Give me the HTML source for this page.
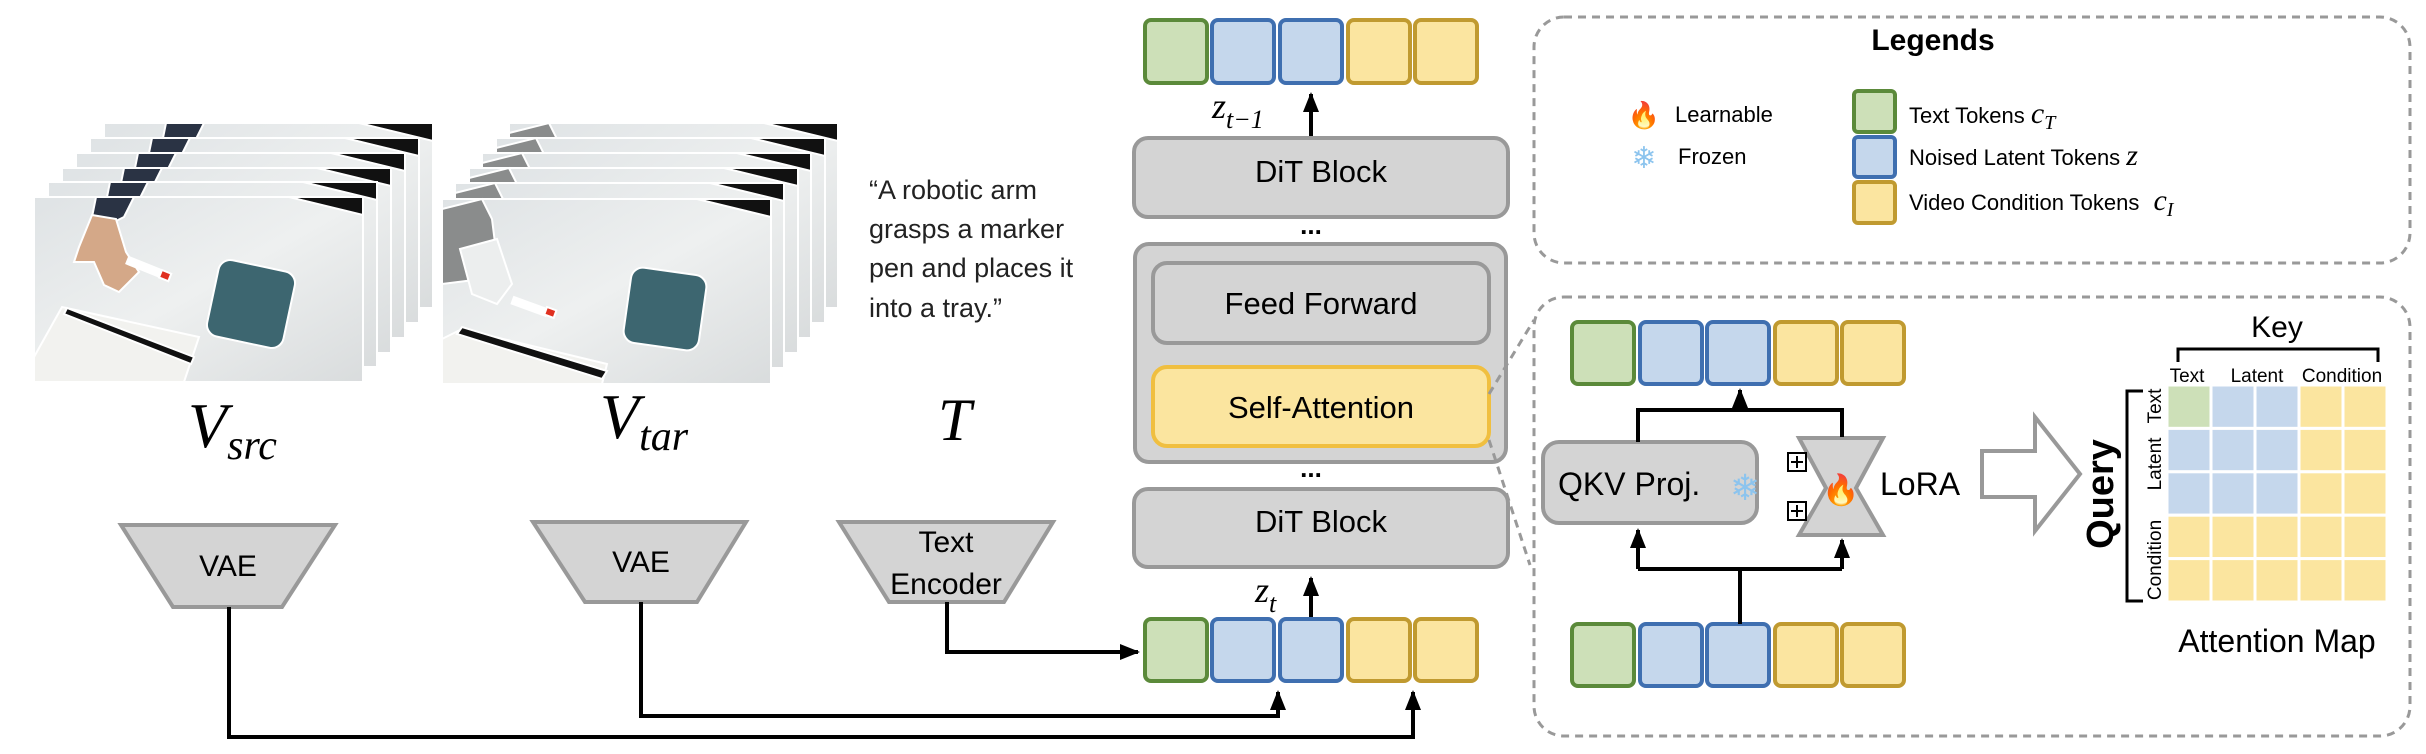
<!DOCTYPE html>
<html><head><meta charset="utf-8"><style>
html,body{margin:0;padding:0;background:#fff;}
svg{display:block;}
text{font-family:"Liberation Sans",sans-serif;}
.m{font-family:"Liberation Serif",serif;font-style:italic;}
</style></head><body>
<svg width="2426" height="754" viewBox="0 0 2426 754" xmlns="http://www.w3.org/2000/svg">
<defs>
<linearGradient id="bg" x1="0" y1="0" x2="1" y2="1"><stop offset="0" stop-color="#dfe3e5"/><stop offset="0.5" stop-color="#eef0f0"/><stop offset="1" stop-color="#d9dcdd"/></linearGradient>
<g id="srcF">
<rect x="0" y="0" width="329" height="185" fill="url(#bg)"/>
<polygon points="255,0 329,0 329,18" fill="#111"/>
<path d="M62,0 L100,0 L90,20 L80,25 L58,20 Z" fill="#2a3344"/>
<path d="M58,18 L82,22 L92,55 L105,75 L85,95 L70,88 L60,65 L40,65 L45,50 Z" fill="#d4a888"/>
<rect x="95" y="60" width="36" height="7" fill="#fff" transform="rotate(22 95 60)"/>
<rect x="128" y="73" width="10" height="8" fill="#e03020" transform="rotate(22 128 73)"/>
<rect x="178" y="68" width="78" height="78" rx="12" fill="#3d6670" transform="rotate(12 217 107)"/>
<polygon points="0,160 28,110 165,140 150,185 0,185" fill="#f2f2ef"/>
<polygon points="30,117 33,111 160,160 157,167" fill="#111"/>
</g>
<g id="tarF">
<rect x="0" y="0" width="329" height="185" fill="url(#bg)"/>
<polygon points="255,0 329,0 329,18" fill="#111"/>
<path d="M0,10 L40,0 L50,20 L55,60 L40,80 L0,85 Z" fill="#8a8c8c"/>
<path d="M18,50 L55,40 L70,85 L55,105 L30,95 Z" fill="#eceeee"/>
<rect x="72" y="98" width="36" height="7" fill="#fff" transform="rotate(20 72 98)"/>
<rect x="105" y="108" width="10" height="8" fill="#e03020" transform="rotate(20 105 108)"/>
<rect x="185" y="72" width="76" height="76" rx="12" fill="#3d6670" transform="rotate(8 223 110)"/>
<polygon points="0,140 20,130 165,165 160,185 0,185" fill="#f2f2ef"/>
<polygon points="15,135 20,128 165,172 160,180" fill="#111"/>
</g>
<marker id="ah" markerWidth="6" markerHeight="5" refX="4.5" refY="2" orient="auto" markerUnits="strokeWidth"><path d="M0,0 L5,2 L0,4 Z" fill="#000"/></marker>
</defs>

<g stroke="#fff" stroke-width="2">
<use href="#srcF" x="104" y="123"/><use href="#srcF" x="90" y="138"/><use href="#srcF" x="76" y="153"/><use href="#srcF" x="62" y="168"/><use href="#srcF" x="48" y="182"/><use href="#srcF" x="34" y="197"/>
<use href="#tarF" x="509" y="123"/><use href="#tarF" x="496" y="138"/><use href="#tarF" x="482" y="153"/><use href="#tarF" x="469" y="168"/><use href="#tarF" x="455" y="183"/><use href="#tarF" x="442" y="199"/>
</g>

<text x="188" y="447" class="m" font-size="64">V<tspan font-size="42" dy="12">src</tspan></text>
<text x="600" y="438" class="m" font-size="64">V<tspan font-size="42" dy="12">tar</tspan></text>
<text x="938" y="440" class="m" font-size="60">T</text>

<g font-size="27" style="fill:#222">
<text x="869" y="199">“A robotic arm</text>
<text x="869" y="238">grasps a marker</text>
<text x="869" y="277">pen and places it</text>
<text x="869" y="317">into a tray.”</text>
</g>

<g fill="#d4d4d4" stroke="#999" stroke-width="4">
<polygon points="121,525 335,525 282,607 173,607"/>
<polygon points="533,522 746,522 697,602 585,602"/>
<polygon points="839,522 1053,522 1004,602 889,602"/>
</g>
<g font-size="30" text-anchor="middle">
<text x="228" y="576">VAE</text>
<text x="641" y="572">VAE</text>
<text x="946" y="552">Text</text>
<text x="946" y="594">Encoder</text>
</g>

<g stroke="#000" stroke-width="4" fill="none">
<polyline points="229,607 229,737 1413,737 1413,692" marker-end="url(#ah)"/>
<polyline points="641,602 641,716 1278,716 1278,692" marker-end="url(#ah)"/>
<polyline points="947,602 947,652 1138,652" marker-end="url(#ah)"/>
<line x1="1311" y1="617" x2="1311" y2="578" marker-end="url(#ah)"/>
<line x1="1311" y1="138" x2="1311" y2="94" marker-end="url(#ah)"/>
</g>
<text x="1255" y="602" class="m" font-size="36">z<tspan font-size="26" dy="10">t</tspan></text>
<text x="1212" y="118" class="m" font-size="36">z<tspan font-size="26" dy="10">t−1</tspan></text>

<g stroke-width="4">
<g transform="translate(1145,20)">
<rect x="0" y="0" width="62" height="63" rx="6" fill="#cde0b8" stroke="#5b8a3a"/>
<rect x="67" y="0" width="62" height="63" rx="6" fill="#c5d7ec" stroke="#3f6fb0"/>
<rect x="135" y="0" width="62" height="63" rx="6" fill="#c5d7ec" stroke="#3f6fb0"/>
<rect x="203" y="0" width="62" height="63" rx="6" fill="#fbe5a0" stroke="#c09a30"/>
<rect x="270" y="0" width="62" height="63" rx="6" fill="#fbe5a0" stroke="#c09a30"/>
</g>
<g transform="translate(1145,619)">
<rect x="0" y="0" width="62" height="62" rx="6" fill="#cde0b8" stroke="#5b8a3a"/>
<rect x="67" y="0" width="62" height="62" rx="6" fill="#c5d7ec" stroke="#3f6fb0"/>
<rect x="135" y="0" width="62" height="62" rx="6" fill="#c5d7ec" stroke="#3f6fb0"/>
<rect x="203" y="0" width="62" height="62" rx="6" fill="#fbe5a0" stroke="#c09a30"/>
<rect x="270" y="0" width="62" height="62" rx="6" fill="#fbe5a0" stroke="#c09a30"/>
</g>
<g transform="translate(1572,322)">
<rect x="0" y="0" width="62" height="62" rx="6" fill="#cde0b8" stroke="#5b8a3a"/>
<rect x="68" y="0" width="62" height="62" rx="6" fill="#c5d7ec" stroke="#3f6fb0"/>
<rect x="135" y="0" width="62" height="62" rx="6" fill="#c5d7ec" stroke="#3f6fb0"/>
<rect x="203" y="0" width="62" height="62" rx="6" fill="#fbe5a0" stroke="#c09a30"/>
<rect x="270" y="0" width="62" height="62" rx="6" fill="#fbe5a0" stroke="#c09a30"/>
</g>
<g transform="translate(1572,624)">
<rect x="0" y="0" width="62" height="62" rx="6" fill="#cde0b8" stroke="#5b8a3a"/>
<rect x="68" y="0" width="62" height="62" rx="6" fill="#c5d7ec" stroke="#3f6fb0"/>
<rect x="135" y="0" width="62" height="62" rx="6" fill="#c5d7ec" stroke="#3f6fb0"/>
<rect x="203" y="0" width="62" height="62" rx="6" fill="#fbe5a0" stroke="#c09a30"/>
<rect x="270" y="0" width="62" height="62" rx="6" fill="#fbe5a0" stroke="#c09a30"/>
</g>
</g>

<g stroke="#999" stroke-width="4" fill="#d4d4d4">
<rect x="1134" y="138" width="374" height="79" rx="14"/>
<rect x="1135" y="244" width="371" height="218" rx="14"/>
<rect x="1153" y="263" width="336" height="80" rx="14"/>
<rect x="1153" y="367" width="336" height="79" rx="14" fill="#fbe59f" stroke="#f0bf40"/>
<rect x="1134" y="489" width="374" height="78" rx="14"/>
</g>
<g font-size="31" text-anchor="middle">
<text x="1321" y="182">DiT Block</text>
<text x="1321" y="314">Feed Forward</text>
<text x="1321" y="418">Self-Attention</text>
<text x="1321" y="532">DiT Block</text>
<text x="1311" y="234" font-size="26" font-weight="bold">...</text>
<text x="1311" y="477" font-size="26" font-weight="bold">...</text>
</g>

<rect x="1534" y="17" width="876" height="246" rx="30" fill="none" stroke="#999" stroke-width="3" stroke-dasharray="8,6"/>
<text x="1933" y="50" font-size="30" font-weight="bold" text-anchor="middle">Legends</text>
<text x="1644" y="124" font-size="26" text-anchor="middle">🔥</text>
<text x="1644" y="168" font-size="30" text-anchor="middle" style="fill:#8cc4ee">❄</text>
<text x="1675" y="122" font-size="22">Learnable</text>
<text x="1678" y="164" font-size="22">Frozen</text>
<g stroke-width="4">
<rect x="1854" y="91" width="41" height="41" rx="4" fill="#cde0b8" stroke="#5b8a3a"/>
<rect x="1854" y="137" width="41" height="40" rx="4" fill="#c5d7ec" stroke="#3f6fb0"/>
<rect x="1854" y="182" width="41" height="41" rx="4" fill="#fbe5a0" stroke="#c09a30"/>
</g>
<g font-size="22">
<text x="1909" y="123">Text Tokens <tspan class="m" font-size="30">c</tspan><tspan class="m" font-size="20" dy="6">T</tspan></text>
<text x="1909" y="165">Noised Latent Tokens <tspan class="m" font-size="30">z</tspan></text>
<text x="1909" y="210">Video Condition Tokens <tspan class="m" font-size="30" dx="8">c</tspan><tspan class="m" font-size="20" dy="6">I</tspan></text>
</g>

<rect x="1534" y="297" width="876" height="439" rx="30" fill="none" stroke="#999" stroke-width="3" stroke-dasharray="8,6"/>
<g stroke="#999" stroke-width="3" stroke-dasharray="8,6" fill="none">
<line x1="1489" y1="394" x2="1534" y2="320"/>
<line x1="1489" y1="440" x2="1530" y2="565"/>
</g>

<rect x="1543" y="442" width="214" height="81" rx="16" fill="#d4d4d4" stroke="#999" stroke-width="4"/>
<text x="1558" y="495" font-size="32">QKV Proj.</text>
<text x="1730" y="500" font-size="36" style="fill:#8cc4ee">❄</text>
<polygon points="1799,438 1883,438 1856,488 1883,535 1799,535 1826,488" fill="#d4d4d4" stroke="#999" stroke-width="4"/>
<text x="1841" y="500" font-size="30" text-anchor="middle">🔥</text>
<text x="1880" y="495" font-size="32">LoRA</text>
<g fill="#fff" stroke="#000" stroke-width="2">
<rect x="1788" y="453" width="18" height="18"/><rect x="1788" y="502" width="18" height="18"/>
<line x1="1797" y1="456" x2="1797" y2="468"/><line x1="1791" y1="462" x2="1803" y2="462"/>
<line x1="1797" y1="505" x2="1797" y2="517"/><line x1="1791" y1="511" x2="1803" y2="511"/>
</g>
<g stroke="#000" stroke-width="4" fill="none">
<polyline points="1638,442 1638,410 1842,410 1842,437"/>
<line x1="1740" y1="410" x2="1740" y2="390" marker-end="url(#ah)"/>
<line x1="1740" y1="624" x2="1740" y2="569"/>
<polyline points="1638,569 1842,569"/>
<line x1="1638" y1="569" x2="1638" y2="530" marker-end="url(#ah)"/>
<line x1="1842" y1="569" x2="1842" y2="540" marker-end="url(#ah)"/>
</g>

<polygon points="1982,451 2035,451 2035,417 2080,474 2035,531 2035,497 1982,497" fill="#fff" stroke="#999" stroke-width="4"/>

<text transform="translate(2113,494) rotate(-90)" font-size="38" font-weight="bold" text-anchor="middle">Query</text>
<text x="2277" y="337" font-size="30" text-anchor="middle">Key</text>
<polyline points="2178,362 2178,349 2378,349 2378,362" fill="none" stroke="#000" stroke-width="3"/>
<g font-size="19" text-anchor="middle">
<text x="2187" y="382">Text</text><text x="2257" y="382">Latent</text><text x="2342" y="382">Condition</text>
</g>
<polyline points="2143,391 2127,391 2127,601 2143,601" fill="none" stroke="#000" stroke-width="3"/>
<g font-size="19" text-anchor="middle">
<text transform="translate(2161,406) rotate(-90)">Text</text>
<text transform="translate(2161,464) rotate(-90)">Latent</text>
<text transform="translate(2161,560) rotate(-90)">Condition</text>
</g>
<g stroke="#fff" stroke-width="3">
<rect x="2167" y="385" width="44" height="43.4" fill="#cde0b8"/>
<rect x="2211" y="385" width="44" height="43.4" fill="#c5d7ec"/>
<rect x="2255" y="385" width="44" height="43.4" fill="#c5d7ec"/>
<rect x="2299" y="385" width="44" height="43.4" fill="#fbe59f"/>
<rect x="2343" y="385" width="44" height="43.4" fill="#fbe59f"/>
<rect x="2167" y="428.4" width="44" height="43.4" fill="#c5d7ec"/>
<rect x="2211" y="428.4" width="44" height="43.4" fill="#c5d7ec"/>
<rect x="2255" y="428.4" width="44" height="43.4" fill="#c5d7ec"/>
<rect x="2299" y="428.4" width="44" height="43.4" fill="#fbe59f"/>
<rect x="2343" y="428.4" width="44" height="43.4" fill="#fbe59f"/>
<rect x="2167" y="471.8" width="44" height="43.4" fill="#c5d7ec"/>
<rect x="2211" y="471.8" width="44" height="43.4" fill="#c5d7ec"/>
<rect x="2255" y="471.8" width="44" height="43.4" fill="#c5d7ec"/>
<rect x="2299" y="471.8" width="44" height="43.4" fill="#fbe59f"/>
<rect x="2343" y="471.8" width="44" height="43.4" fill="#fbe59f"/>
<rect x="2167" y="515.2" width="44" height="43.4" fill="#fbe59f"/>
<rect x="2211" y="515.2" width="44" height="43.4" fill="#fbe59f"/>
<rect x="2255" y="515.2" width="44" height="43.4" fill="#fbe59f"/>
<rect x="2299" y="515.2" width="44" height="43.4" fill="#fbe59f"/>
<rect x="2343" y="515.2" width="44" height="43.4" fill="#fbe59f"/>
<rect x="2167" y="558.6" width="44" height="43.4" fill="#fbe59f"/>
<rect x="2211" y="558.6" width="44" height="43.4" fill="#fbe59f"/>
<rect x="2255" y="558.6" width="44" height="43.4" fill="#fbe59f"/>
<rect x="2299" y="558.6" width="44" height="43.4" fill="#fbe59f"/>
<rect x="2343" y="558.6" width="44" height="43.4" fill="#fbe59f"/>
</g>
<text x="2277" y="652" font-size="32" text-anchor="middle">Attention Map</text>
</svg>
</body></html>
